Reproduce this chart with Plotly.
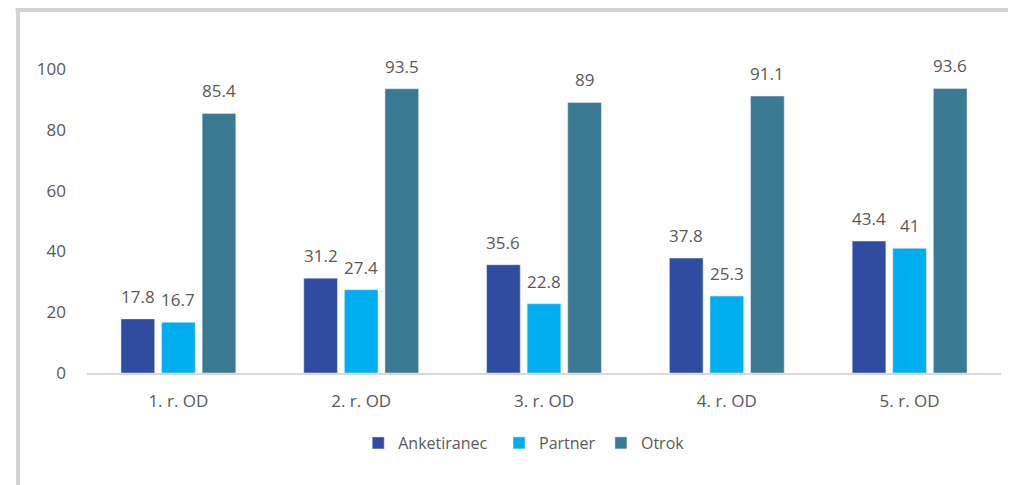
import plotly.graph_objects as go

categories = ["1. r. OD", "2. r. OD", "3. r. OD", "4. r. OD", "5. r. OD"]
anketiranec = [17.8, 31.2, 35.6, 37.8, 43.4]
partner = [16.7, 27.4, 22.8, 25.3, 41]
otrok = [85.4, 93.5, 89, 91.1, 93.6]
series_names = ["Anketiranec", "Partner", "Otrok"]
colors = ["#2F4CA0", "#00AEEF", "#3B7A93"]

W, H = 1016, 485
OFF = 8  # page body margin
# layout targets in page pixels
plot_left, plot_right, plot_top, plot_bottom = 86.5, 1001.5, 69, 373
L = plot_left - OFF
R = W - (plot_right - OFF)
T = plot_top - OFF
B = H - (plot_bottom - OFF)
pw, ph = W - L - R, H - T - B

BARGAP, GROUPGAP = 0.334, 0.17
n_series = len(series_names)
slot_px = pw / len(categories) * (1 - BARGAP) / n_series

font_fam = "Open Sans, Noto Sans, sans-serif"
txt_col = "#595959"

def px_x(px):
    return (px - OFF - L) / pw

def px_y(py):
    return (H - B - (py - OFF)) / ph

legend_square_px = [375, 516, 618]
legend_names = ["legend", "legend2", "legend3"]

fig = go.Figure()
annotations = []
for i, (name, vals, col) in enumerate(zip(series_names, [anketiranec, partner, otrok], colors)):
    fig.add_trace(go.Bar(
        x=categories, y=vals, name=name, marker_color=col,
        legend=legend_names[i], cliponaxis=False,
    ))
    xshift = (i - (n_series - 1) / 2) * slot_px
    for c, v in zip(categories, vals):
        annotations.append(dict(
            x=c, y=v, xref="x", yref="y", text=f"{v:g}", showarrow=False,
            xanchor="center", yanchor="bottom", xshift=xshift, yshift=9,
            font=dict(size=17, color=txt_col, family=font_fam),
        ))

layout_legends = {}
for i, ln in enumerate(legend_names):
    layout_legends[ln] = dict(
        orientation="h", x=px_x(legend_square_px[i] - 17), xanchor="left",
        y=px_y(443), yanchor="middle", bgcolor="rgba(0,0,0,0)",
        font=dict(size=16, color=txt_col, family=font_fam), itemwidth=30,
    )

fig.update_layout(
    width=W, height=H,
    margin=dict(l=L, r=R, t=T, b=B, autoexpand=False),
    plot_bgcolor="white", paper_bgcolor="white",
    bargap=BARGAP, bargroupgap=GROUPGAP,
    font=dict(family=font_fam, color=txt_col, size=17),
    showlegend=True,
    xaxis=dict(showgrid=False, showline=True, linecolor="#D9D9D9", linewidth=2,
               ticks="", ticklabelstandoff=12,
               tickfont=dict(size=17, color=txt_col)),
    yaxis=dict(range=[0, 100], showgrid=False, zeroline=False, showline=False,
               tickvals=[0, 20, 40, 60, 80, 100], ticks="", ticklen=0,
               ticklabelstandoff=20, tickfont=dict(size=17, color=txt_col)),
    annotations=annotations,
    shapes=[
        dict(type="line", xref="paper", yref="paper", x0=px_x(15), x1=px_x(1030),
             y0=px_y(10), y1=px_y(10), line=dict(color="#D4D4D4", width=4)),
        dict(type="line", xref="paper", yref="paper", x0=px_x(17.5), x1=px_x(17.5),
             y0=px_y(8), y1=px_y(500), line=dict(color="#D4D4D4", width=4)),
    ],
    **layout_legends,
)
fig.write_html("out.html")
